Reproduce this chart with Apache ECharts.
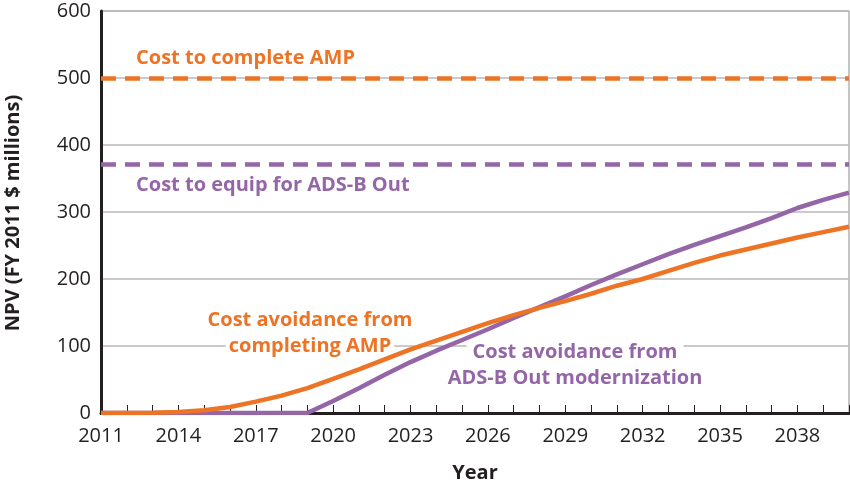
<!DOCTYPE html>
<html>
<head>
<meta charset="utf-8">
<script src="https://cdn.jsdelivr.net/npm/echarts@6/dist/echarts.min.js"></script>
<style>
  html, body { margin: 0; background: #fff; }
  #chart { width: 850px; height: 485px; }
</style>
</head>
<body>
<div id="chart"></div>
<script>
// x categories (one per year)
const years = ['2011', '2012', '2013', '2014', '2015', '2016', '2017', '2018', '2019', '2020',
  '2021', '2022', '2023', '2024', '2025', '2026', '2027', '2028', '2029', '2030',
  '2031', '2032', '2033', '2034', '2035', '2036', '2037', '2038', '2039', '2040']
// cost avoidance from completing AMP (NPV, FY 2011 $ millions)
const avoidAmp = [0, 0, 0.5, 1.5, 4, 9, 17, 26, 37, 51,
  65, 80, 95, 108, 121, 134, 146, 157, 167, 178,
  190, 200, 212, 224, 235, 244, 253, 262, 270, 278]
// cost avoidance from ADS-B Out modernization
const avoidAdsb = [0, 0, 0, 0, 0, 0, 0, 0, 0, 18,
  37, 57, 76, 93, 109, 125, 142, 158, 174, 191,
  207, 222, 237, 251, 264, 277, 291, 306, 318, 329]
// one-off costs, drawn as dashed reference lines
const costAmp = 500
const costAdsb = 372
const yTicks = [0, 100, 200, 300, 400, 500, 600]

const orange = '#ED7325'
const purple = '#9466A8'
const ink = '#231F20'
const bold = 'bold 20px "Open Sans"'

const chart = echarts.init(document.getElementById('chart'))

chart.setOption({
  animation: false,
  grid: {
    left: 101, right: 1, top: 11, bottom: 72,
    outerBoundsMode: 'none', containLabel: false,
    show: true, borderColor: '#8a8a8a', borderWidth: 1
  },
  xAxis: {
    type: 'category',
    data: years,
    boundaryGap: false,
    name: 'Year',
    nameLocation: 'middle',
    nameGap: 50,
    nameTextStyle: { fontFamily: 'Open Sans', fontWeight: 'bold', fontSize: 20, color: ink },
    axisLine: { lineStyle: { color: ink, width: 3 } },
    axisTick: { inside: true, length: 8, interval: 0, lineStyle: { color: ink, width: 1 } },
    axisLabel: { interval: 2, margin: 13, fontFamily: 'Open Sans', fontSize: 20, color: ink },
    splitLine: { show: false }
  },
  yAxis: {
    type: 'value',
    min: yTicks[0],
    max: yTicks[yTicks.length - 1],
    interval: 100,
    axisLine: { show: true, lineStyle: { color: ink, width: 3 } },
    axisTick: { show: false },
    axisLabel: { margin: 10, fontFamily: 'Open Sans', fontSize: 20, color: ink },
    splitLine: { lineStyle: { color: '#b8b8b8', width: 1.5 } }
  },
  series: [
    {
      name: 'Cost avoidance from ADS-B Out modernization',
      type: 'line',
      data: avoidAdsb,
      symbol: 'none',
      z: 3,
      lineStyle: { color: purple, width: 4.5 },
      markLine: {
        silent: true,
        symbol: 'none',
        label: { show: false },
        lineStyle: { color: purple, width: 4.5, type: [15, 9] },
        data: [{ yAxis: costAdsb }]
      }
    },
    {
      name: 'Cost avoidance from completing AMP',
      type: 'line',
      data: avoidAmp,
      symbol: 'none',
      z: 4,
      lineStyle: { color: orange, width: 4.5 },
      markLine: {
        silent: true,
        symbol: 'none',
        label: { show: false },
        lineStyle: { color: orange, width: 4.5, type: [15, 9] },
        data: [{ yAxis: costAmp }]
      }
    }
  ],
  graphic: [
    { type: 'text', z: 1, rotation: Math.PI / 2, x: 13, y: 213,
      style: { text: 'NPV (FY 2011 $ millions)', font: bold, fill: ink, textAlign: 'center', textVerticalAlign: 'middle' } },
    { type: 'text', z: 1, x: 136, y: 58,
      style: { text: 'Cost to complete AMP', font: bold, fill: orange, textVerticalAlign: 'middle' } },
    { type: 'text', z: 1, x: 136, y: 185,
      style: { text: 'Cost to equip for ADS-B Out', font: bold, fill: purple, textVerticalAlign: 'middle' } },
    { type: 'text', z: 1, x: 310, y: 320,
      style: { text: 'Cost avoidance from', font: bold, fill: orange, textAlign: 'center', textVerticalAlign: 'middle' } },
    { type: 'text', z: 1, x: 310, y: 346,
      style: { text: 'completing AMP', font: bold, fill: orange, textAlign: 'center', textVerticalAlign: 'middle',
        backgroundColor: '#fff', padding: [0, 3] } },
    { type: 'text', z: 1, x: 575, y: 352,
      style: { text: 'Cost avoidance from', font: bold, fill: purple, textAlign: 'center', textVerticalAlign: 'middle',
        backgroundColor: '#fff', padding: [0, 6] } },
    { type: 'text', z: 1, x: 575, y: 378,
      style: { text: 'ADS-B Out modernization', font: bold, fill: purple, textAlign: 'center', textVerticalAlign: 'middle' } }
  ]
})
</script>
</body>
</html>
